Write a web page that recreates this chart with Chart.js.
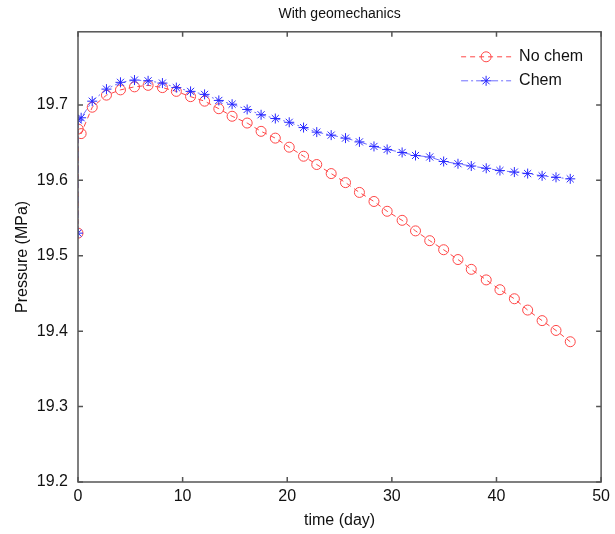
<!DOCTYPE html>
<html lang="en">
<head>
<meta charset="UTF-8">
<title>With geomechanics</title>
<script src="https://cdn.jsdelivr.net/npm/chart.js"></script>
<style>
  html, body { margin: 0; padding: 0; background: #fff; }
</style>
</head>
<body>
<canvas id="myChart" width="615" height="534"></canvas>
<script>
// time steps (day)
const timeDays = [0, 0.02, 0.3, 1.36, 2.72, 4.06, 5.40, 6.70, 8.07, 9.40, 10.76, 12.10, 13.46, 14.73,
  16.17, 17.50, 18.86, 20.19, 21.56, 22.82, 24.20, 25.57, 26.90, 28.29, 29.55, 30.98, 32.26,
  33.62, 34.95, 36.32, 37.59, 39.02, 40.33, 41.71, 42.98, 44.36, 45.69, 47.05];

// pressure (MPa)
const noChem = [19.530, 19.668, 19.662, 19.697, 19.713, 19.720, 19.724, 19.726, 19.723, 19.718,
  19.711, 19.705, 19.695, 19.685, 19.676, 19.665, 19.656, 19.644, 19.632, 19.621, 19.609,
  19.597, 19.584, 19.572, 19.559, 19.547, 19.533, 19.520, 19.508, 19.495, 19.482, 19.468,
  19.455, 19.443, 19.428, 19.414, 19.401, 19.386];

const chem = [19.530, 19.680, 19.683, 19.705, 19.721, 19.730, 19.733, 19.732, 19.729, 19.723,
  19.718, 19.714, 19.706, 19.701, 19.694, 19.687, 19.682, 19.677, 19.670, 19.664, 19.660,
  19.656, 19.651, 19.645, 19.641, 19.637, 19.633, 19.631, 19.625, 19.622, 19.619, 19.616,
  19.613, 19.611, 19.609, 19.606, 19.604, 19.602];

const xTicks = [0, 10, 20, 30, 40, 50];
const yTicks = [19.2, 19.3, 19.4, 19.5, 19.6, 19.7];
const seriesNames = ['No chem', 'Chem'];

const FONT = "'Liberation Sans', Arial, sans-serif";
const AXIS = '#555';

const toPoints = (ys) => ys.map((y, i) => ({ x: timeDays[i], y: y }));

// box round the axes with inward ticks, like matlab
const matlabBox = {
  id: 'matlabBox',
  afterDatasetsDraw(chart) {
    const { ctx, chartArea: a, scales } = chart;
    const len = 5;
    ctx.save();
    ctx.strokeStyle = AXIS;
    ctx.lineWidth = 1.5;
    ctx.strokeRect(a.left, a.top, a.right - a.left, a.bottom - a.top);
    ctx.beginPath();
    scales.x.ticks.forEach(t => {
      const px = scales.x.getPixelForValue(t.value);
      ctx.moveTo(px, a.bottom); ctx.lineTo(px, a.bottom - len);
      ctx.moveTo(px, a.top); ctx.lineTo(px, a.top + len);
    });
    scales.y.ticks.forEach(t => {
      const py = scales.y.getPixelForValue(t.value);
      ctx.moveTo(a.left, py); ctx.lineTo(a.left + len, py);
      ctx.moveTo(a.right, py); ctx.lineTo(a.right - len, py);
    });
    ctx.stroke();
    ctx.restore();
  }
};

// legend inside the axes, top right, line + marker samples
const insideLegend = {
  id: 'insideLegend',
  afterDraw(chart) {
    const { ctx, chartArea: a } = chart;
    const x0 = a.right - 140;
    let y = a.top + 25;
    ctx.save();
    seriesNames.forEach(name => {
      const ds = chart.data.datasets.find(d => d.label === name);
      ctx.strokeStyle = ds.borderColor;
      ctx.lineWidth = ds.borderWidth;
      ctx.setLineDash(ds.borderDash);
      ctx.beginPath();
      ctx.moveTo(x0, y); ctx.lineTo(x0 + 50, y);
      ctx.stroke();
      ctx.setLineDash([]);
      ctx.strokeStyle = ds.pointBorderColor;
      ctx.fillStyle = ds.pointBackgroundColor;
      ctx.lineWidth = ds.pointBorderWidth;
      Chart.helpers.drawPoint(ctx, {
        pointStyle: ds.pointStyle, radius: ds.pointRadius, rotation: 0, borderWidth: ds.pointBorderWidth
      }, x0 + 25, y);
      ctx.fillStyle = '#111';
      ctx.font = '16px ' + FONT;
      ctx.textBaseline = 'middle';
      ctx.fillText(name, x0 + 58, y);
      y += 24;
    });
    ctx.restore();
  }
};

new Chart(document.getElementById('myChart'), {
  type: 'scatter',
  data: {
    datasets: [{
      label: 'No chem',
      data: toPoints(noChem),
      showLine: true,
      order: 1,
      borderColor: 'rgb(255,70,70)',
      borderWidth: 1,
      borderDash: [5, 4],
      pointStyle: 'circle',
      pointRadius: 5,
      pointBorderWidth: 1,
      pointBorderColor: 'rgb(255,70,70)',
      pointBackgroundColor: 'rgba(0,0,0,0)'
    }, {
      label: 'Chem',
      data: toPoints(chem),
      showLine: true,
      order: 0,
      borderColor: 'rgb(110,110,255)',
      borderWidth: 1,
      borderDash: [7, 3, 2, 3],
      pointStyle: 'star',
      pointRadius: 5,
      pointBorderWidth: 1,
      pointBorderColor: 'rgb(40,40,255)',
      pointBackgroundColor: 'rgb(40,40,255)'
    }]
  },
  options: {
    responsive: false,
    animation: false,
    layout: { padding: { left: 0, right: 12, top: 0, bottom: 0 } },
    plugins: {
      legend: { display: false },
      tooltip: { enabled: false },
      title: {
        display: true,
        text: 'With geomechanics',
        fullSize: false,
        color: '#111',
        font: { family: FONT, size: 14, weight: 'normal' },
        padding: { top: 6, bottom: 9 }
      }
    },
    scales: {
      x: {
        type: 'linear',
        min: 0,
        max: 50,
        afterBuildTicks: s => { s.ticks = xTicks.map(v => ({ value: v })); },
        afterFit: s => { s.height = 52; },
        grid: { display: false, drawTicks: false },
        border: { display: false },
        ticks: { color: '#111', padding: 5, font: { family: FONT, size: 16 }, callback: v => v },
        title: { display: true, text: 'time (day)', color: '#111', font: { family: FONT, size: 16 }, padding: { top: 0, bottom: 4 } }
      },
      y: {
        type: 'linear',
        min: 19.2,
        max: 19.797,
        afterBuildTicks: s => { s.ticks = yTicks.map(v => ({ value: v })); },
        afterFit: s => { s.width = 78; },
        grid: { display: false, drawTicks: false },
        border: { display: false },
        ticks: { color: '#111', padding: 10, font: { family: FONT, size: 16 }, callback: v => v.toFixed(1) },
        title: { display: true, text: 'Pressure (MPa)', color: '#111', font: { family: FONT, size: 16 }, padding: { top: 13, bottom: 0 } }
      }
    }
  },
  plugins: [matlabBox, insideLegend]
});
</script>
</body>
</html>
